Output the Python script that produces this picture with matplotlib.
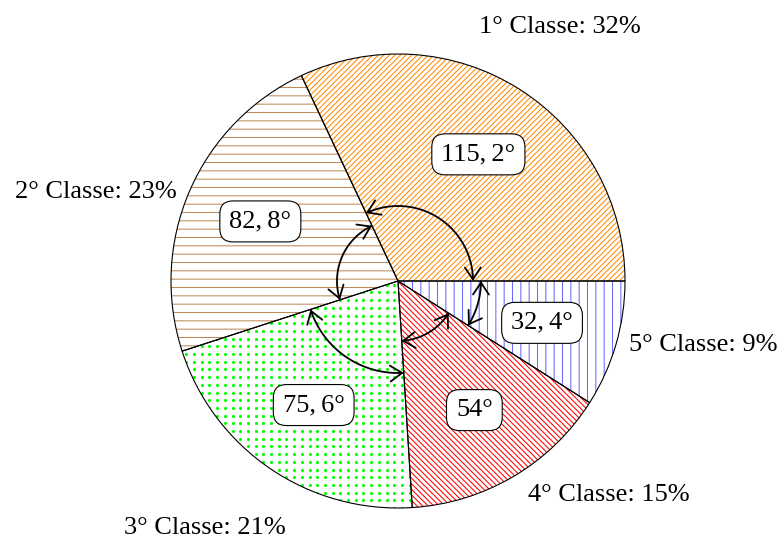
import numpy as np
import matplotlib
matplotlib.use("Agg")
import matplotlib.pyplot as plt
from matplotlib.patches import Wedge, FancyArrowPatch
from matplotlib.path import Path

# --- data -------------------------------------------------------------
classes = ["1° Classe", "2° Classe", "3° Classe", "4° Classe", "5° Classe"]
percent = [32, 23, 21, 15, 9]

# --- styling ----------------------------------------------------------
hatch_colors = ["#FF8C00", "#C08A5A", "#00FF00", "#FF0000", "#6A6AFF"]
hatches = ["//////", "--", None, "\\" * 6, "||"]       # None -> dotted fill
label_offsets = [(162, 254), (-302, 89), (-193, -247), (211, -214), (305, -64)]
arc_radii = [75, 61, 92, 60, 83]
R = 227
label_r = 150

plt.rcParams["hatch.linewidth"] = 0.75
plt.rcParams["font.family"] = ["Liberation Serif", "DejaVu Serif"]

fig = plt.figure(figsize=(7.82, 5.41), dpi=100)
ax = fig.add_axes([0, 0, 1, 1])
ax.set_xlim(-398, 384)
ax.set_ylim(-260, 281)
ax.axis("off")

sweep = np.array(percent) * 3.6
starts = np.concatenate([[0.0], np.cumsum(sweep)[:-1]])


def deg_label(a):
    s = f"{a:.1f}".rstrip("0").rstrip(".")
    return s.replace(".", ",\u2009") + "°"


for i in range(len(percent)):
    t1, t2 = starts[i], starts[i] + sweep[i]
    fill = Wedge((0, 0), R, t1, t2, facecolor="white",
                 edgecolor=hatch_colors[i], lw=0, hatch=hatches[i], zorder=1)
    ax.add_patch(fill)
    if hatches[i] is None:
        g = np.arange(-R, R + 1, 7.7)
        gx, gy = np.meshgrid(g, g)
        sc = ax.scatter(gx.ravel(), gy.ravel(), s=5, c=hatch_colors[i],
                        linewidths=0, zorder=2)
        sc.set_clip_path(fill)
    ax.add_patch(Wedge((0, 0), R, t1, t2, facecolor="none",
                       edgecolor="black", lw=0.8, zorder=3))

    # angle arc with arrow heads at both slice borders
    th = np.radians(np.linspace(t1, t2, 80))
    pts = np.column_stack([arc_radii[i] * np.cos(th), arc_radii[i] * np.sin(th)])
    arr = FancyArrowPatch(path=Path(pts),
                          arrowstyle="<->,head_length=0.45,head_width=0.3",
                          mutation_scale=19, lw=1.3, color="black", zorder=4)
    ax.add_patch(arr)

    mid = np.radians((t1 + t2) / 2)
    ax.text(label_r * np.cos(mid), label_r * np.sin(mid), deg_label(sweep[i]),
            ha="center", va="center", fontsize=19, zorder=5,
            bbox=dict(boxstyle="round,pad=0.36,rounding_size=0.5",
                      fc="white", ec="black", lw=0.8))

    ox, oy = label_offsets[i]
    ax.text(ox, oy, f"{classes[i]}: {percent[i]}%", ha="center", va="center",
            fontsize=19, zorder=5)

fig.savefig("out.png", dpi=100)
